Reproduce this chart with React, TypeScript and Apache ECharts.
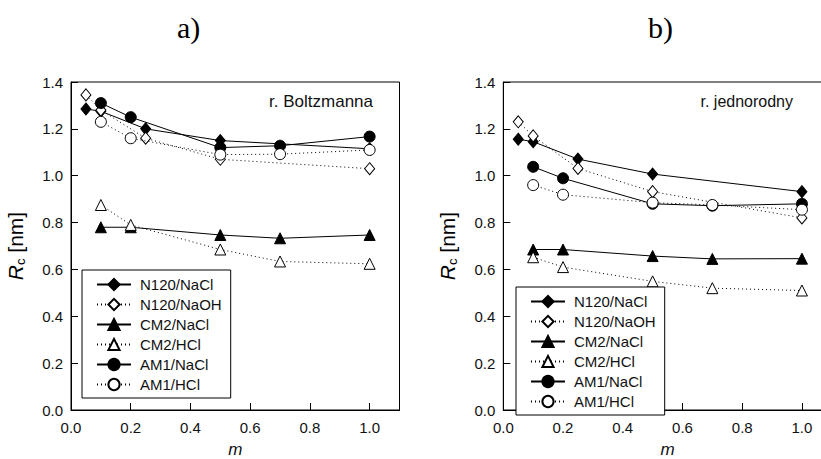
import React, { useEffect, useRef } from 'react';
import * as echarts from 'echarts';

const seriesNames = ['N120/NaCl', 'N120/NaOH', 'CM2/NaCl', 'CM2/HCl', 'AM1/NaCl', 'AM1/HCl'];
const mN120 = [0.05, 0.1, 0.25, 0.5, 1.0];
const mOther = [0.1, 0.2, 0.5, 0.7, 1.0];
const yTicks = [0, 0.2, 0.4, 0.6, 0.8, 1.0, 1.2, 1.4];

// panel a) r. Boltzmanna
const aN120NaCl = [1.285, 1.275, 1.2, 1.15, 1.115];
const aN120NaOH = [1.345, 1.28, 1.16, 1.07, 1.03];
const aCM2NaCl = [0.78, 0.78, 0.747, 0.733, 0.747];
const aCM2HCl = [0.875, 0.79, 0.685, 0.634, 0.624];
const aAM1NaCl = [1.31, 1.25, 1.12, 1.128, 1.167];
const aAM1HCl = [1.23, 1.16, 1.09, 1.092, 1.11];

// panel b) r. jednorodny
const bN120NaCl = [1.156, 1.145, 1.071, 1.007, 0.932];
const bN120NaOH = [1.23, 1.17, 1.031, 0.932, 0.82];
const bCM2NaCl = [0.685, 0.685, 0.657, 0.645, 0.646];
const bCM2HCl = [0.652, 0.61, 0.549, 0.52, 0.51];
const bAM1NaCl = [1.038, 0.989, 0.88, 0.872, 0.88];
const bAM1HCl = [0.96, 0.919, 0.885, 0.875, 0.855];

const FONT = 'Liberation Sans, Arial, sans-serif';

const styleDefs = [
  { symbol: 'diamond', filled: true, dotted: false, m: mN120 },
  { symbol: 'diamond', filled: false, dotted: true, m: mN120 },
  { symbol: 'triangle', filled: true, dotted: false, m: mOther },
  { symbol: 'triangle', filled: false, dotted: true, m: mOther },
  { symbol: 'circle', filled: true, dotted: false, m: mOther },
  { symbol: 'circle', filled: false, dotted: true, m: mOther },
];

function makeSeries(values: number[][], idx: number) {
  return values.map((vals, i) => {
    const d = styleDefs[i];
    return {
      type: 'line',
      name: seriesNames[i],
      xAxisIndex: idx,
      yAxisIndex: idx,
      data: d.m.map((m, j) => [m, vals[j]]),
      symbol: d.symbol,
      symbolSize: d.symbol === 'circle' ? 11 : d.symbol === 'diamond' ? [10, 12] : 11,
      showSymbol: true,
      z: 2 + i * 0.1,
      lineStyle: { color: '#000', width: 1, type: d.dotted ? [1, 3] : 'solid' },
      itemStyle: {
        color: d.filled ? '#000' : '#fff',
        borderColor: '#000',
        borderWidth: 1,
        opacity: 1,
      },
      emphasis: { disabled: true },
    };
  });
}

function xAxis(idx: number) {
  return {
    type: 'value',
    gridIndex: idx,
    min: 0,
    max: 1.1,
    interval: 0.2,
    name: 'm',
    nameLocation: 'middle',
    nameGap: 31,
    nameTextStyle: { fontFamily: FONT, fontSize: 17, lineHeight: 17, fontStyle: 'italic', color: '#111' },
    axisLine: { show: true, lineStyle: { color: '#000', width: 1 } },
    axisTick: { show: true, inside: true, length: 7, lineStyle: { color: '#000' } },
    axisLabel: {
      fontFamily: FONT,
      fontSize: 15,
      color: '#111',
      margin: 10,
      showMaxLabel: false,
      formatter: (v: number) => (v > 1.05 ? '' : v.toFixed(1)),
    },
    splitLine: { show: false },
  };
}

function yAxis(idx: number) {
  return {
    type: 'value',
    gridIndex: idx,
    min: yTicks[0],
    max: yTicks[yTicks.length - 1],
    interval: 0.2,
    name: '{i|R}{s|c}{n| [nm]}',
    nameLocation: 'middle',
    nameRotate: 90,
    nameGap: 44,
    nameTextStyle: {
      fontFamily: FONT,
      fontSize: 21,
      color: '#000',
      rich: {
        i: { fontFamily: FONT, fontSize: 21, fontStyle: 'italic', color: '#000' },
        s: { fontFamily: FONT, fontSize: 13, color: '#000', padding: [10, 0, 0, 0] },
        n: { fontFamily: FONT, fontSize: 21, color: '#000' },
      },
    },
    axisLine: { show: true, lineStyle: { color: '#000', width: 1 } },
    axisTick: { show: true, inside: true, length: 7, lineStyle: { color: '#000' } },
    axisLabel: {
      fontFamily: FONT,
      fontSize: 15,
      color: '#111',
      margin: 8,
      formatter: (v: number) => v.toFixed(1),
    },
    splitLine: { show: false },
  };
}

function legend(left: number, top: number) {
  return {
    left,
    top,
    orient: 'vertical',
    data: seriesNames,
    itemWidth: 34,
    itemHeight: 14,
    itemGap: 5,
    padding: [7, 9, 6, 14],
    backgroundColor: '#fff',
    borderColor: '#000',
    borderWidth: 1,
    selectedMode: false,
    textStyle: { fontFamily: FONT, fontSize: 15, color: '#111', padding: [0, 0, 0, 4] },
  };
}

function grid(left: number) {
  return {
    left,
    top: 82,
    width: 328.5,
    height: 328,
    show: true,
    borderColor: '#000',
    borderWidth: 1,
    backgroundColor: 'transparent',
    containLabel: false,
    outerBoundsMode: 'none',
  };
}

export default function App() {
  const ref = useRef<HTMLDivElement>(null);
  useEffect(() => {
    if (!ref.current) return;
    const chart = echarts.init(ref.current, null, { renderer: 'svg' });
    const option = {
      animation: false,
      backgroundColor: '#fff',
      grid: [grid(71), grid(503.3)],
      xAxis: [xAxis(0), xAxis(1)],
      yAxis: [yAxis(0), yAxis(1)],
      legend: [legend(82, 270), legend(516, 287)],
      graphic: [
        { type: 'text', left: 177, top: 12, style: { text: 'a)', font: '30px "Liberation Serif", "Times New Roman", serif', fill: '#000' } },
        { type: 'text', left: 648, top: 12, style: { text: 'b)', font: '30px "Liberation Serif", "Times New Roman", serif', fill: '#000' } },
        { type: 'text', x: 373, y: 101, style: { text: 'r. Boltzmanna', font: '17px "Liberation Sans", Arial, sans-serif', fill: '#111', align: 'right', verticalAlign: 'middle' } },
        { type: 'text', x: 793, y: 101, style: { text: 'r. jednorodny', font: '16px "Liberation Sans", Arial, sans-serif', fill: '#111', align: 'right', verticalAlign: 'middle' } },
      ],
      series: [
        ...makeSeries([aN120NaCl, aN120NaOH, aCM2NaCl, aCM2HCl, aAM1NaCl, aAM1HCl], 0),
        ...makeSeries([bN120NaCl, bN120NaOH, bCM2NaCl, bCM2HCl, bAM1NaCl, bAM1HCl], 1),
      ],
    };
    chart.setOption(option as any);
    return () => chart.dispose();
  }, []);
  return (
    <div
      ref={ref}
      style={{ position: 'fixed', left: 0, top: 0, width: 821, height: 459, background: '#fff' }}
    />
  );
}
